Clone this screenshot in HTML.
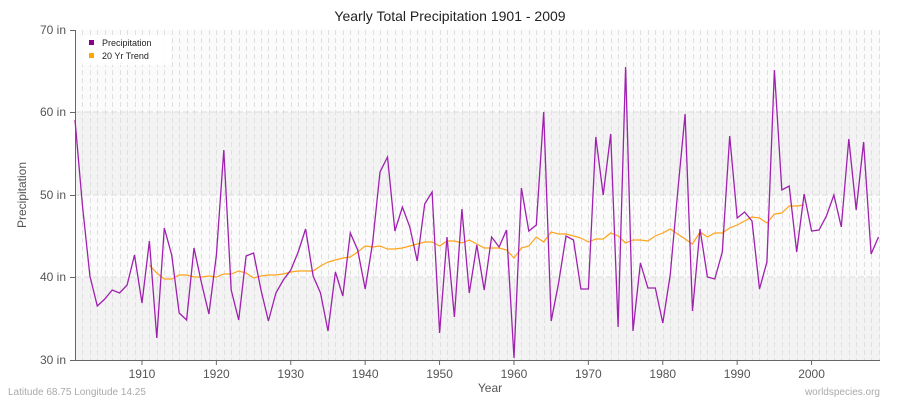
<!DOCTYPE html>
<html><head><meta charset="utf-8"><style>
body{margin:0;background:#fff;}
svg{display:block;font-family:"Liberation Sans",sans-serif;}
</style></head><body>
<svg id="s" width="900" height="400" xmlns="http://www.w3.org/2000/svg">
<rect x="0" y="0" width="900" height="400" fill="#fff"/>
<rect x="75" y="30" width="805" height="82" fill="#fbfbfb"/>
<rect x="75" y="112" width="805" height="83" fill="#f3f3f3"/>
<rect x="75" y="195" width="805" height="82" fill="#fbfbfb"/>
<rect x="75" y="277" width="805" height="83" fill="#f3f3f3"/>
<g id="vg"></g>
<g stroke="#dddddd" stroke-dasharray="6,3" stroke-width="1">
<line x1="75" x2="880" y1="112" y2="112"/>
<line x1="75" x2="880" y1="195" y2="195"/>
<line x1="75" x2="880" y1="277" y2="277"/>
</g>
<text x="450" y="21" text-anchor="middle" font-size="14" fill="#222">Yearly Total Precipitation 1901 - 2009</text>
<g font-size="12" fill="#555" text-anchor="end">
<text x="66" y="34">70 in</text><text x="66" y="116">60 in</text><text x="66" y="199">50 in</text><text x="66" y="281">40 in</text><text x="66" y="364">30 in</text>
</g>
<g stroke="#666" stroke-width="1">
<line x1="75.5" y1="30" x2="75.5" y2="360"/>
<line x1="75" y1="360.5" x2="880" y2="360.5"/>
<line x1="70" x2="75" y1="30.5" y2="30.5"/><line x1="70" x2="75" y1="112.5" y2="112.5"/><line x1="70" x2="75" y1="195.5" y2="195.5"/><line x1="70" x2="75" y1="277.5" y2="277.5"/><line x1="70" x2="75" y1="360.5" y2="360.5"/>
</g>
<g id="xt" font-size="12" fill="#555" text-anchor="middle"></g>
<text x="490" y="392" text-anchor="middle" font-size="12" fill="#555">Year</text>
<text x="26" y="195" text-anchor="middle" font-size="12" fill="#555" transform="rotate(-90 26 195)">Precipitation</text>
<text x="8" y="395" font-size="10" fill="#aaa">Latitude 68.75 Longitude 14.25</text>
<text x="880" y="395" text-anchor="end" font-size="10" fill="#aaa">worldspecies.org</text>
<polyline id="tr" fill="none" stroke="#ffa31a" stroke-width="1.2"/>
<polyline id="pr" fill="none" stroke="#a020b0" stroke-width="1.3"/>
<rect x="81" y="35" width="90" height="30" rx="3" fill="#fff" opacity="0.9"/>
<rect x="89" y="40" width="5" height="5" fill="#8b008b"/>
<rect x="89" y="53" width="5" height="5" fill="#ffa500"/>
<text x="102" y="46" font-size="9" fill="#222">Precipitation</text>
<text x="102" y="59" font-size="9" fill="#222">20 Yr Trend</text>
</svg>
<script>
var ns="http://www.w3.org/2000/svg";
function X(y){return 75+(y-1901)*7.44;}
var vg=document.getElementById('vg');
for(var y=1902;y<=2009;y++){var l=document.createElementNS(ns,'line');var x=Math.round(X(y))+0.5;l.setAttribute('x1',x);l.setAttribute('x2',x);l.setAttribute('y1',30);l.setAttribute('y2',360);l.setAttribute('stroke','#e0e0e0');l.setAttribute('stroke-dasharray','5,3');vg.appendChild(l);}
var xt=document.getElementById('xt');
for(var y=1910;y<=2000;y+=10){var x=X(y);var t=document.createElementNS(ns,'text');t.setAttribute('x',x);t.setAttribute('y',378);t.textContent=y;xt.appendChild(t);
var l=document.createElementNS(ns,'line');l.setAttribute('x1',x);l.setAttribute('x2',x);l.setAttribute('y1',360);l.setAttribute('y2',365);l.setAttribute('stroke','#666');xt.appendChild(l);}
var p=[120,205,276,306,299,290,293,285,255,303,241,338,228,255,313,320,248,283,314,255,150,290,320,256,253,290,321,293,280,270,252,229,276,293,331,272,296,233,250,289,243,172,157,231,207,227,261,204,192,333,237,317,209,293,245,290,237,247,230,358,188,231,225,112,321,283,236,240,289,289,137,195,134,327,67,331,263,288,288,323,275,193,114,311,229,277,279,252,136,218,212,221,289,262,70,190,186,252,194,231,230,216,195,227,139,210,142,254,237];
var s=[];for(var i=0;i<p.length;i++)s.push(X(1901+i).toFixed(1)+','+p[i]);
document.getElementById('pr').setAttribute('points',s.join(' '));
var t=[265,273,279,279,275,275,277,277,276,277,274,274,271,273,278,276,275,275,274,272,271,271,271,266,262,260,258,257,252,246,247,246,249,249,248,246,244,242,242,246,241,241,243,240,244,248,248,248,250,258,248,246,237,242,232,234,234,236,238,242,239,239,233,236,243,240,240,241,236,233,229,234,239,244,232,237,233,233,228,225,221,217,218,223,214,213,206,206,205];
s=[];for(var i=0;i<t.length;i++)s.push(X(1911+i).toFixed(1)+','+t[i]);
document.getElementById('tr').setAttribute('points',s.join(' '));
</script>
</body></html>
